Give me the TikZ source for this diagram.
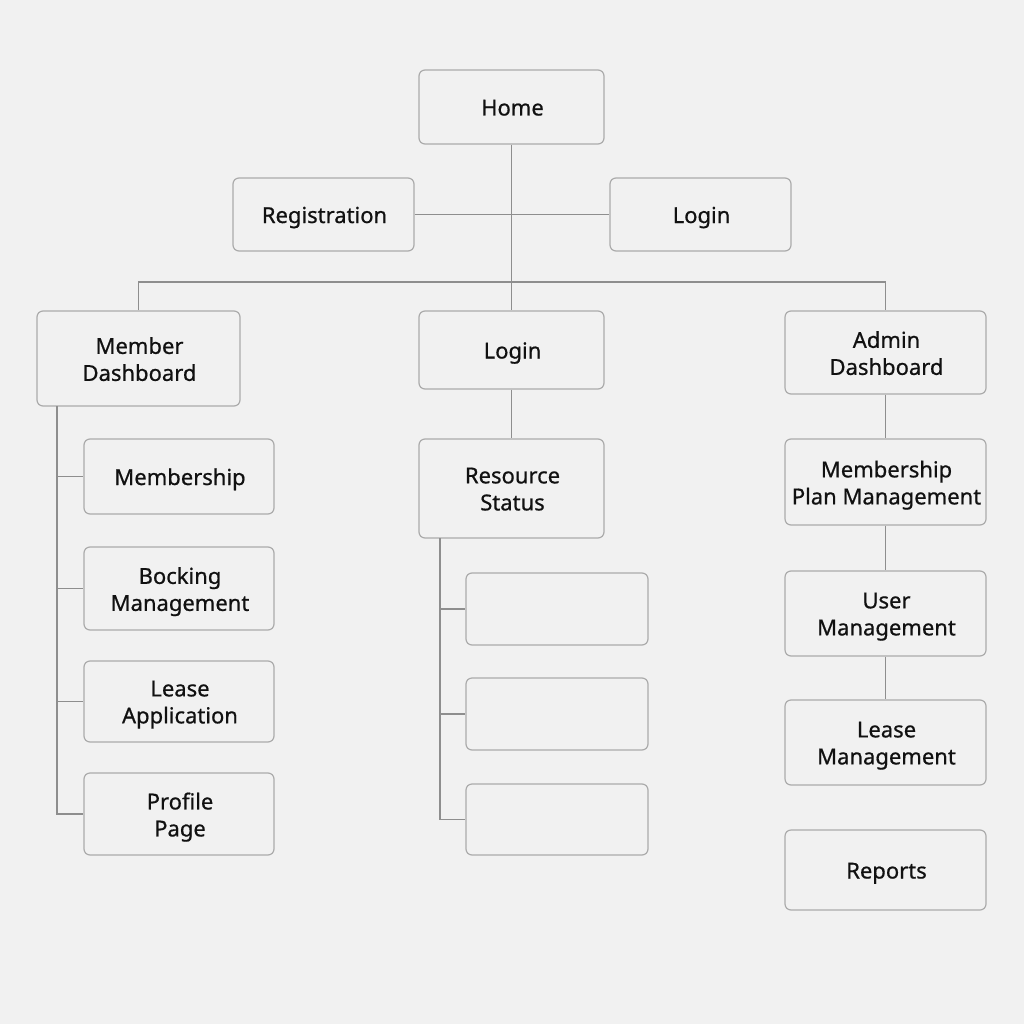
\documentclass[tikz,border=0pt]{standalone}
\usepackage{fontspec}
\setmainfont{Noto Sans}[FakeBold=0.7]
\definecolor{bgc}{HTML}{F1F1F1}
\definecolor{boxc}{HTML}{ABABAB}
\definecolor{linec}{HTML}{8E8E8E}
\definecolor{txtc}{HTML}{111111}
\begin{document}
\begin{tikzpicture}[x=1pt,y=-1pt,
  box/.style={draw=boxc, line width=1.2pt, rounded corners=6pt, fill=bgc, inner sep=0pt},
  lab/.style={align=center, text=txtc, font=\fontsize{22}{27}\selectfont, inner sep=0pt,
    text depth=0pt, xshift=1pt, yshift=-0.5pt},
  one/.style={lab, text height=16pt},
  two/.style={lab},
  conn/.style={draw=linec, line width=1.3pt}]
\fill[bgc] (0,0) rectangle (1024,1024);
\useasboundingbox (0,0) rectangle (1024,1024);
% top level
\node[box, minimum width=185pt, minimum height=74pt, label={[one]center:Home}] (home) at (511.5,107) {};
\node[box, minimum width=181pt, minimum height=73pt, label={[one]center:Registration}] (reg) at (323.5,214.5) {};
\node[box, minimum width=181pt, minimum height=73pt, label={[one]center:Login}] (login1) at (700.5,214.5) {};
% second level
\node[box, minimum width=203pt, minimum height=95pt, label={[two]center:{Member\\Dashboard}}] (md) at (138.5,358.5) {};
\node[box, minimum width=185pt, minimum height=78pt, label={[one]center:Login}] (login2) at (511.5,350) {};
\node[box, minimum width=201pt, minimum height=83pt, label={[two]center:{Admin\\Dashboard}}] (ad) at (885.5,352.5) {};
% member column
\node[box, minimum width=190pt, minimum height=75pt, label={[one]center:Membership}] (mem) at (179,476.5) {};
\node[box, minimum width=190pt, minimum height=83pt, label={[two]center:{Bocking\\Management}}] (book) at (179,588.5) {};
\node[box, minimum width=190pt, minimum height=81pt, label={[two]center:{Lease\\Application}}] (lease) at (179,701.5) {};
\node[box, minimum width=190pt, minimum height=82pt, label={[two]center:{Profile\\Page}}] (prof) at (179,814) {};
% middle column
\node[box, minimum width=185pt, minimum height=99pt, label={[two]center:{Resource\\Status}}] (res) at (511.5,488.5) {};
\node[box, minimum width=182pt, minimum height=72pt] (e1) at (557,609) {};
\node[box, minimum width=182pt, minimum height=72pt] (e2) at (557,714) {};
\node[box, minimum width=182pt, minimum height=71pt] (e3) at (557,819.5) {};
% admin column
\node[box, minimum width=201pt, minimum height=86pt, label={[two]center:{Membership\\Plan Management}}] (mpm) at (885.5,482) {};
\node[box, minimum width=201pt, minimum height=85pt, label={[two]center:{User\\Management}}] (um) at (885.5,613.5) {};
\node[box, minimum width=201pt, minimum height=85pt, label={[two]center:{Lease\\Management}}] (lm) at (885.5,742.5) {};
\node[box, minimum width=201pt, minimum height=80pt, label={[one]center:Reports}] (rep) at (885.5,870) {};
% connectors
\coordinate (bus) at (511.5,282);
\coordinate (ms) at (57,406);
\coordinate (rs) at (440,538);
\draw[conn] (home.south) -- (login2.north);
\draw[conn] (reg.east) -- (login1.west);
\draw[conn] (md.north) -- (md.north |- bus) -- (ad.north |- bus) -- (ad.north);
\draw[conn] (ms) |- (prof.west);
\draw[conn] (ms |- mem.west) -- (mem.west);
\draw[conn] (ms |- book.west) -- (book.west);
\draw[conn] (ms |- lease.west) -- (lease.west);
\draw[conn] (login2.south) -- (res.north);
\draw[conn] (rs) |- (e3.west);
\draw[conn] (rs |- e1.west) -- (e1.west);
\draw[conn] (rs |- e2.west) -- (e2.west);
\draw[conn] (ad.south) -- (mpm.north);
\draw[conn] (mpm.south) -- (um.north);
\draw[conn] (um.south) -- (lm.north);
\end{tikzpicture}
\end{document}
